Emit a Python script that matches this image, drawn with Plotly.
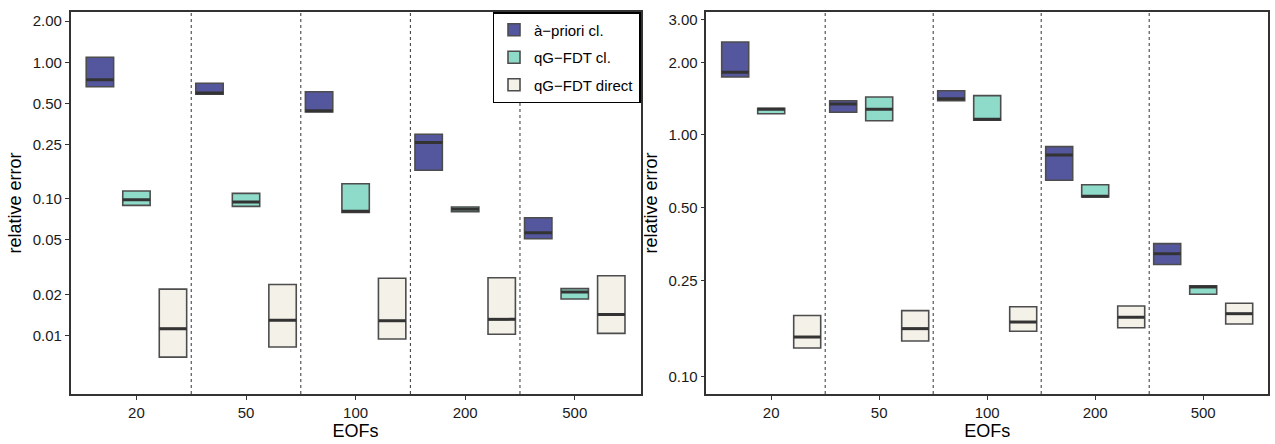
import plotly.graph_objects as go

# EOF truncation levels (x categories)
eofs = ["20", "50", "100", "200", "500"]
methods = ["à−priori cl.", "qG−FDT cl.", "qG−FDT direct"]
fills = ["#55579e", "#8fdbc9", "#f3f1e8"]

# Left panel: quartiles of the relative error per method
left_q1 = {
    "à−priori cl.": [0.663, 0.583, 0.4325, 0.162, 0.051],
    "qG−FDT cl.": [0.0896, 0.0881, 0.0796, 0.0804, 0.01845],
    "qG−FDT direct": [0.00693, 0.00821, 0.0094, 0.0102, 0.01034],
}
left_med = {
    "à−priori cl.": [0.746, 0.596, 0.442, 0.259, 0.0564],
    "qG−FDT cl.": [0.0985, 0.0947, 0.081, 0.0838, 0.0208],
    "qG−FDT direct": [0.0112, 0.0129, 0.0128, 0.0131, 0.0142],
}
left_q3 = {
    "à−priori cl.": [1.088, 0.702, 0.609, 0.297, 0.0727],
    "qG−FDT cl.": [0.114, 0.1096, 0.129, 0.0871, 0.0220],
    "qG−FDT direct": [0.0218, 0.0236, 0.0262, 0.0264, 0.0273],
}

# Right panel
right_q1 = {
    "à−priori cl.": [1.739, 1.242, 1.387, 0.650, 0.291],
    "qG−FDT cl.": [1.225, 1.146, 1.151, 0.554, 0.219],
    "qG−FDT direct": [0.1312, 0.1403, 0.1539, 0.1592, 0.165],
}
right_med = {
    "à−priori cl.": [1.818, 1.344, 1.413, 0.827, 0.3225],
    "qG−FDT cl.": [1.278, 1.278, 1.162, 0.557, 0.2348],
    "qG−FDT direct": [0.1457, 0.1578, 0.1681, 0.1759, 0.182],
}
right_q3 = {
    "à−priori cl.": [2.427, 1.387, 1.525, 0.895, 0.355],
    "qG−FDT cl.": [1.290, 1.437, 1.455, 0.6225, 0.2377],
    "qG−FDT direct": [0.179, 0.1873, 0.1945, 0.1958, 0.201],
}

left_ticks = [2.0, 1.0, 0.5, 0.25, 0.1, 0.05, 0.02, 0.01]
right_ticks = [3.0, 2.0, 1.0, 0.5, 0.25, 0.1]

DODGE = 1.0 / 3.0
BOX_W = 0.25
FONT = "Liberation Sans, Arial, sans-serif"

fig = go.Figure()


def add_panel(q1, med, q3, xa, ya, show_legend):
    for k, m in enumerate(methods):
        xs = [i + (k - 1) * DODGE for i in range(len(eofs))]
        fig.add_trace(go.Box(
            x=xs, q1=q1[m], median=med[m], q3=q3[m],
            lowerfence=q1[m], upperfence=q3[m],
            width=BOX_W, name=m, legendgroup=m, showlegend=show_legend,
            fillcolor=fills[k], line=dict(color="#4d4d4d", width=1.6),
            xaxis=xa, yaxis=ya, hoverinfo="skip",
        ))
        # heavier median bars
        mx, my = [], []
        for x, v in zip(xs, med[m]):
            mx += [x - BOX_W / 2, x + BOX_W / 2, None]
            my += [v, v, None]
        fig.add_trace(go.Scatter(
            x=mx, y=my, mode="lines", line=dict(color="#333333", width=3),
            showlegend=False, xaxis=xa, yaxis=ya, hoverinfo="skip",
        ))
    # dotted separators between EOF groups
    for s in range(len(eofs) - 1):
        fig.add_shape(type="line", xref=xa, yref=f"{ya} domain",
                      x0=s + 0.5, x1=s + 0.5, y0=0, y1=1,
                      line=dict(color="#333333", width=1, dash="dot"))


add_panel(left_q1, left_med, left_q3, "x", "y", True)
add_panel(right_q1, right_med, right_q3, "x2", "y2", False)

axis_common = dict(
    showline=True, mirror=True, linecolor="#333333", linewidth=1.5,
    ticks="outside", ticklen=4, tickwidth=1.2, tickcolor="#333333",
    showgrid=False, zeroline=False,
    tickfont=dict(family=FONT, size=15, color="#1a1a1a"),
)
xcommon = dict(axis_common, range=[-0.6, 4.6], tickvals=list(range(len(eofs))),
               ticktext=eofs, title=dict(text="EOFs", standoff=2,
                                         font=dict(family=FONT, size=18, color="#000000")))

fig.update_layout(
    width=1275, height=444,
    margin=dict(l=0, r=0, t=0, b=0),
    paper_bgcolor="white", plot_bgcolor="white",
    boxmode="overlay",
    xaxis=dict(xcommon, domain=[70.7 / 1275, 640.5 / 1275], anchor="y"),
    xaxis2=dict(xcommon, domain=[706.4 / 1275, 1268 / 1275], anchor="y2"),
    yaxis=dict(axis_common, type="log", domain=[50 / 444, 432 / 444], anchor="x",
               range=[-2.4295, 0.3685], tickvals=left_ticks,
               ticktext=[f"{v:.2f}" for v in left_ticks],
               title=dict(text="relative error", standoff=6,
                          font=dict(family=FONT, size=18, color="#000000"))),
    yaxis2=dict(axis_common, type="log", domain=[50 / 444, 432 / 444], anchor="x2",
                range=[-1.0725, 0.5093], tickvals=right_ticks,
                ticktext=[f"{v:.2f}" for v in right_ticks],
                title=dict(text="relative error", standoff=6,
                           font=dict(family=FONT, size=18, color="#000000"))),
    legend=dict(x=640.5 / 1275, y=432 / 444, xanchor="right", yanchor="top",
                bgcolor="white", bordercolor="#000000", borderwidth=1.5,
                font=dict(family=FONT, size=15, color="#000000"),
                tracegroupgap=5),
    showlegend=True,
)

fig.write_html("out.html")
